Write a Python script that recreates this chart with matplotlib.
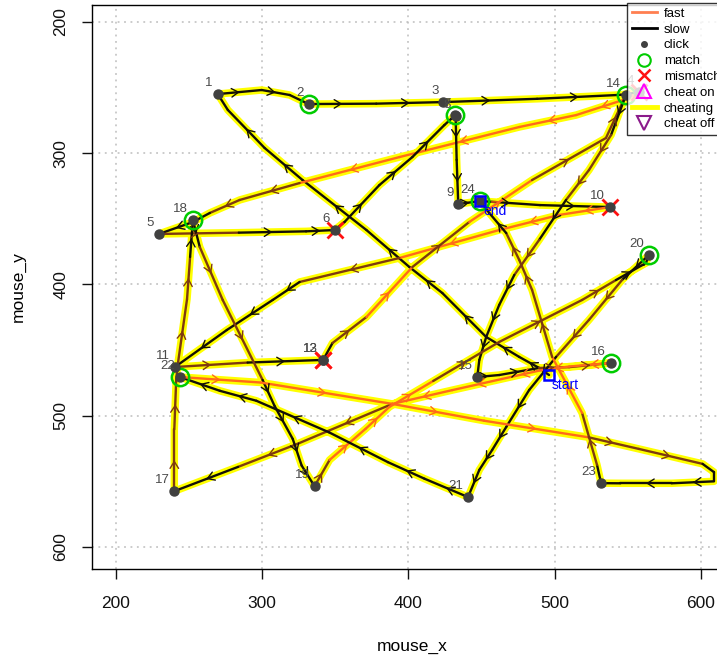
import numpy as np
import matplotlib
matplotlib.use('Agg')
import matplotlib.pyplot as plt
from matplotlib.lines import Line2D
from matplotlib.collections import LineCollection

plt.rcParams['font.family'] = ['Liberation Sans', 'DejaVu Sans']

# recorded mouse path (screen coords), in time order
path_x = [496.2,
          489.4, 475.8, 453.2, 423.2, 400.7, 371.3, 327.6, 301.7, 276.5, 269.6,   # start -> 1
          299.7, 318.8, 331.7,                                                   # -> 2
          378.0, 423.9,                                                          # -> 3
          488.0, 545.0, 558.0,                                                   # -> 4
          548.8, 514.7, 475.8, 393.9, 325.6, 284.6, 264.2, 252.6, 229.4,         # -> 5
          284.0, 330.0, 349.5,                                                   # -> 6
          356.3, 380.2, 402.7, 424.6, 432.1,                                     # -> 7
          432.3,                                                                 # -> 8
          433.0, 434.1,                                                          # -> 9
          449.1, 490.0, 537.9,                                                   # -> 10
          503.1, 462.1, 393.9, 325.6, 307.2, 275.8, 240.3,                       # -> 11
          290.0, 341.3,                                                          # -> 12
          341.5,                                                                 # -> 13
          348.1, 371.3, 402.7, 441.6, 484.6, 535.1, 548.8,                       # -> 14
          538.6, 523.5, 507.8, 489.4, 472.4, 462.1, 453.2, 448.5, 447.1,         # -> 15
          462.1, 489.4, 509.9, 538.6,                                            # -> 16
          510.0, 490.0, 464.0, 430.0, 389.0, 324.0, 283.5, 239.9,                # -> 17
          239.9, 241.2, 242.5, 248.6, 250.7, 252.6,                              # -> 18
          257.3, 273.0, 300.3, 308.4, 320.9, 327.0, 335.8,                       # -> 19
          346.1, 370.7, 387.0, 417.0, 462.1, 518.8, 542.0, 562.5, 564.5,         # -> 20
          546.1, 523.5, 501.0, 482.6, 466.9, 457.3, 448.5, 440.8,                # -> 21
          411.0, 386.0, 345.8, 296.0, 271.0, 243.7,                              # -> 22
          299.0, 389.0, 451.7, 523.4, 557.6, 601.2, 609.0, 609.0, 580.0, 545.0, 531.8,  # -> 23
          529.0, 518.8, 498.3, 484.6, 475.8, 466.9, 455.3, 449.1]                # -> 24
path_y = [469.0,
          463.6, 455.2, 440.0, 406.5, 386.7, 358.5, 320.4, 296.0, 267.0, 254.9,
          251.8, 255.6, 262.5,
          262.2, 261.0,
          258.5, 255.5, 253.5,
          258.7, 270.9, 280.0, 302.9, 322.7, 335.6, 345.5, 352.4, 361.5,
          360.5, 359.5, 358.5,
          352.4, 324.2, 302.9, 278.5, 270.9,
          271.3,
          305.0, 338.7,
          336.4, 339.5, 341.0,
          347.0, 358.5, 379.8, 398.1, 411.8, 434.7, 462.9,
          459.5, 457.5,
          457.8,
          444.6, 424.8, 386.7, 352.4, 320.4, 288.4, 255.6,
          286.1, 312.8, 335.6, 366.1, 392.8, 415.6, 440.0, 457.5, 470.5,
          469.0, 463.6, 463.0, 459.8,
          462.5, 465.5, 472.0, 480.5, 491.0, 521.5, 539.0, 557.5,
          510.3, 472.2, 459.2, 411.2, 379.0, 350.9,
          371.4, 411.8, 472.8, 492.4, 517.7, 538.0, 553.7,
          533.7, 510.0, 493.3, 473.5, 443.8, 411.8, 396.6, 383.6, 377.5,
          396.6, 427.0, 455.2, 480.4, 508.6, 526.1, 541.3, 562.0,
          548.0, 535.4, 512.7, 488.6, 481.0, 470.5,
          474.7, 491.0, 503.8, 516.5, 525.3, 536.7, 543.0, 550.0, 551.5, 551.5, 551.4,
          537.5, 497.9, 455.2, 404.2, 381.3, 360.8, 345.5, 336.4]
# speed of the step that arrives at each sample: f fast, m medium, s slow
# upper case = a click happened at that sample
speed = ("-"
         "sssssssssS"
         "ssS"
         "sS"
         "ssS"
         "fffffmmsS"
         "msS"
         "ssssS"
         "S"
         "sS"
         "ssS"
         "fffmssS"
         "mS"
         "S"
         "smfmfmM"
         "smmsmsssS"
         "ssmM"
         "fffffmmS"
         "mmmmmS"
         "smmsssS"
         "mfffmmmsS"
         "smmssssS"
         "sssssS"
         "ffffmmssssS"
         "smfmmmsS")

match_clicks = [2, 7, 14, 16, 18, 20, 22, 24]
mismatch_clicks = [4, 6, 10, 12, 13]

col = {'f': '#FF6A1A', 'm': '#7E3A10', 's': '#141008'}

px = np.array(path_x)
py = np.array(path_y)
clicks = [i for i, c in enumerate(speed) if c.isupper()]
cx = px[clicks]
cy = py[clicks]

fig = plt.figure(figsize=(7.17, 6.63), dpi=100)
ax = fig.add_axes([0.1283, 0.1418, 0.894, 0.8507])
ax.set_xlim(183.6, 622)
ax.set_ylim(616.8, 187.0)

ax.set_xticks([200, 300, 400, 500, 600])
ax.set_yticks([200, 300, 400, 500, 600])
ax.grid(True, color='#BDBDBD', linestyle=(0, (1.2, 3)), lw=1.1)
ax.set_axisbelow(True)

# cheating highlight under the whole path
ax.plot(px, py, color='#FFFF00', lw=5.4, solid_capstyle='round',
        solid_joinstyle='round', zorder=2)

segs = [[(px[i - 1], py[i - 1]), (px[i], py[i])] for i in range(1, len(px))]
seg_col = [col[c.lower()] for c in speed[1:]]
ax.add_collection(LineCollection(segs, colors=seg_col, linewidths=1.7,
                                 capstyle='round', zorder=3))

# little direction arrows
fig.canvas.draw()
disp = ax.transData.transform(np.column_stack([px, py]))
for i in range(1, len(px)):
    d = disp[i] - disp[i - 1]
    if np.hypot(*d) < 22:
        continue
    mx, my = (px[i - 1] + px[i]) / 2, (py[i - 1] + py[i]) / 2
    ax.annotate('', xy=(mx, my),
                xytext=(mx - (px[i] - px[i - 1]) * 0.02, my - (py[i] - py[i - 1]) * 0.02),
                arrowprops=dict(arrowstyle='->,head_length=0.45,head_width=0.28',
                                color=seg_col[i - 1], lw=1.0, shrinkA=0, shrinkB=0,
                                mutation_scale=11),
                zorder=4)

ax.plot(cx[[n - 1 for n in match_clicks]], cy[[n - 1 for n in match_clicks]], 'o',
        ms=12.5, mfc='none', mec='#00CC00', mew=1.8, zorder=5)
ax.plot(cx[[n - 1 for n in mismatch_clicks]], cy[[n - 1 for n in mismatch_clicks]], 'x',
        ms=11, mec='#FF1010', mew=2.0, zorder=5)
ax.plot(cx, cy, 'o', ms=6.5, color='#404040', zorder=6)

ax.plot(px[0], py[0], 's', ms=7, mfc='none', mec='#0000FF', mew=1.8, zorder=7)
ax.plot(px[-1], py[-1], 's', ms=7, mfc='none', mec='#0000FF', mew=1.8, zorder=7)
ax.annotate('start', (px[0], py[0]), xytext=(2, -2), textcoords='offset points',
            ha='left', va='top', color='#0000FF', fontsize=10, zorder=7)
ax.annotate('end', (px[-1], py[-1]), xytext=(2, -2), textcoords='offset points',
            ha='left', va='top', color='#0000FF', fontsize=10, zorder=7)

for n, (x, y) in enumerate(zip(cx, cy), start=1):
    ax.annotate(str(n), (x, y), xytext=(-3.5, 3.5), textcoords='offset points',
                ha='right', va='bottom', fontsize=9.5, color='#4A4A4A', zorder=8)

ax.tick_params(axis='both', direction='out', length=7, width=1, labelsize=12.5,
               colors='#111111')
ax.tick_params(axis='x', pad=12.5)
ax.tick_params(axis='y', pad=10)
for lab in ax.get_yticklabels():
    lab.set_rotation(90)
    lab.set_va('center')
for s in ax.spines.values():
    s.set_linewidth(1.0)
ax.set_xlabel('mouse_x', fontsize=12.5, labelpad=20)
ax.set_ylabel('mouse_y', fontsize=12.5, labelpad=20)

handles = [
    Line2D([], [], color='#FF7F50', lw=2),
    Line2D([], [], color='black', lw=2),
    Line2D([], [], ls='none', marker='o', ms=4, color='#404040'),
    Line2D([], [], ls='none', marker='o', ms=9, mfc='none', mec='#00CC00', mew=1.5),
    Line2D([], [], ls='none', marker='x', ms=9, mec='#FF1010', mew=1.8),
    Line2D([], [], ls='none', marker='^', ms=10, mfc='none', mec='#FF00FF', mew=1.5),
    Line2D([], [], color='#FFFF00', lw=3.5),
    Line2D([], [], ls='none', marker='v', ms=10, mfc='none', mec='#8B1A8B', mew=1.5),
]
labels = ['fast', 'slow', 'click', 'match', 'mismatch', 'cheat on', 'cheating', 'cheat off']
leg = ax.legend(handles, labels, loc='upper left',
                bbox_to_anchor=(627 / 717, 1 - 3 / 663), bbox_transform=fig.transFigure,
                fontsize=9.5, labelspacing=0.27, handlelength=1.9, handletextpad=0.55,
                borderpad=0.35, borderaxespad=0, fancybox=False, framealpha=0.8,
                edgecolor='black')
leg.get_frame().set_linewidth(1.0)
leg.set_zorder(10)

fig.savefig('out.png', dpi=100)
